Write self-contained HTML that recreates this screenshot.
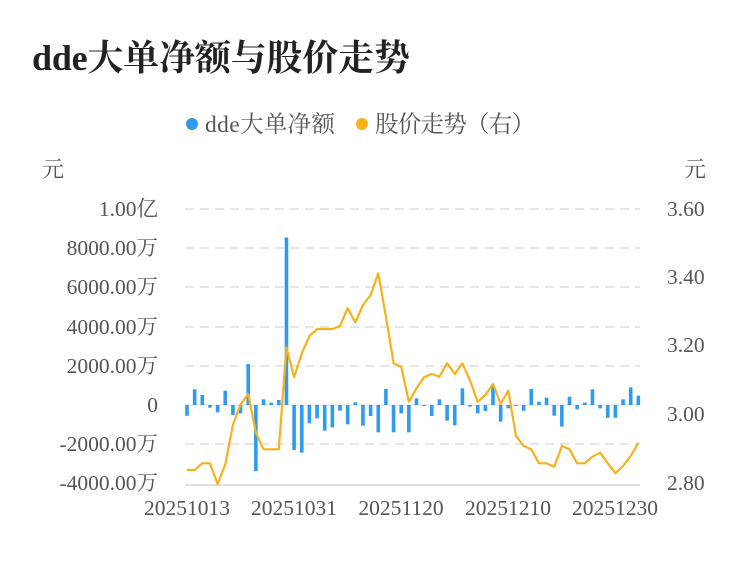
<!DOCTYPE html>
<html><head><meta charset="utf-8"><style>
body{margin:0;background:#fff;}
svg text{font-family:"Liberation Serif","Noto Serif CJK SC",serif;}
</style></head><body>
<svg width="750" height="558" xmlns="http://www.w3.org/2000/svg">
<text x="32" y="70" font-size="36" font-weight="bold" fill="#222" textLength="378">dde大单净额与股价走势</text>
<circle cx="192" cy="124" r="6" fill="#2d9cf0"/>
<text x="205" y="132" font-size="23.5" fill="#555" textLength="130">dde大单净额</text>
<circle cx="362" cy="124" r="6" fill="#f7b219"/>
<text x="375" y="132" font-size="23.5" fill="#555" textLength="160">股价走势（右）</text>
<text x="42" y="177" font-size="22" fill="#555">元</text>
<text x="684" y="177" font-size="22" fill="#555">元</text>
<g stroke="#e6e6e6" stroke-width="2" stroke-dasharray="9,6">
<line x1="185" x2="640" y1="209" y2="209"/><line x1="185" x2="640" y1="248" y2="248"/>
<line x1="185" x2="640" y1="287" y2="287"/><line x1="185" x2="640" y1="327" y2="327"/>
<line x1="185" x2="640" y1="366" y2="366"/><line x1="185" x2="640" y1="444" y2="444"/>
</g>
<line x1="185" x2="640" y1="405" y2="405" stroke="#e6e6e6" stroke-width="1.5"/>
<line x1="185" x2="640" y1="485" y2="485" stroke="#e0e0e0" stroke-width="2"/>
<g font-size="21.5" fill="#555" text-anchor="end">
<text x="158" y="216">1.00亿</text><text x="158" y="255">8000.00万</text>
<text x="158" y="294">6000.00万</text><text x="158" y="334">4000.00万</text>
<text x="158" y="373">2000.00万</text><text x="158" y="412">0</text>
<text x="158" y="451">-2000.00万</text><text x="158" y="490">-4000.00万</text>
</g>
<g font-size="21.5" fill="#555">
<text x="667" y="216">3.60</text><text x="667" y="284">3.40</text>
<text x="667" y="352">3.20</text><text x="667" y="421">3.00</text><text x="667" y="490">2.80</text>
</g>
<g font-size="21.5" fill="#555" text-anchor="middle">
<text x="187" y="515">20251013</text><text x="294" y="515">20251031</text>
<text x="401" y="515">20251120</text><text x="508" y="515">20251210</text><text x="615" y="515">20251230</text>
</g>
<g id="bars" fill="#2d9cf0"></g>
<polyline id="ln" fill="none" stroke="#f7b219" stroke-width="2.2" stroke-linejoin="round"/>
</svg>
<script>
var b=[-550,800,510,-135,-375,730,-510,-425,2090,-3370,290,120,255,8550,-2300,-2430,-935,-680,-1310,-1140,-290,-985,135,-1055,-560,-1395,815,-1395,-425,-1395,340,-30,-560,290,-800,-1035,850,-85,-425,-305,985,-850,-170,-30,-290,815,170,375,-545,-1105,425,-220,120,800,-170,-650,-650,290,900,475];
var p=[470,470,463.3,463.3,484,464.3,425,404.3,394,432.7,449.3,449.3,449.3,347.3,377.3,353.3,336,329,329,329,326,308.3,322.3,305,295,273.3,316.7,363.3,366.7,401.7,388.3,377.3,374,376.7,363.3,374,363.3,380.7,401.7,395,384,404,390.7,436,446,449.3,463.3,463.3,466.7,446,449.3,463.3,463.3,456.7,452.7,463.3,473.3,466,456,442.7];
var g=document.getElementById('bars'),s='',pts=[];
for(var i=0;i<60;i++){var x=187+7.65*i,h=b[i]*39.2/2000,y=h>0?405-h:405;
s+='<rect x="'+(x-1.8)+'" y="'+y+'" width="3.6" height="'+Math.max(Math.abs(h),1)+'"/>';
pts.push(x.toFixed(1)+','+p[i]);}
g.innerHTML=s;document.getElementById('ln').setAttribute('points',pts.join(' '));
</script>
</body></html>
